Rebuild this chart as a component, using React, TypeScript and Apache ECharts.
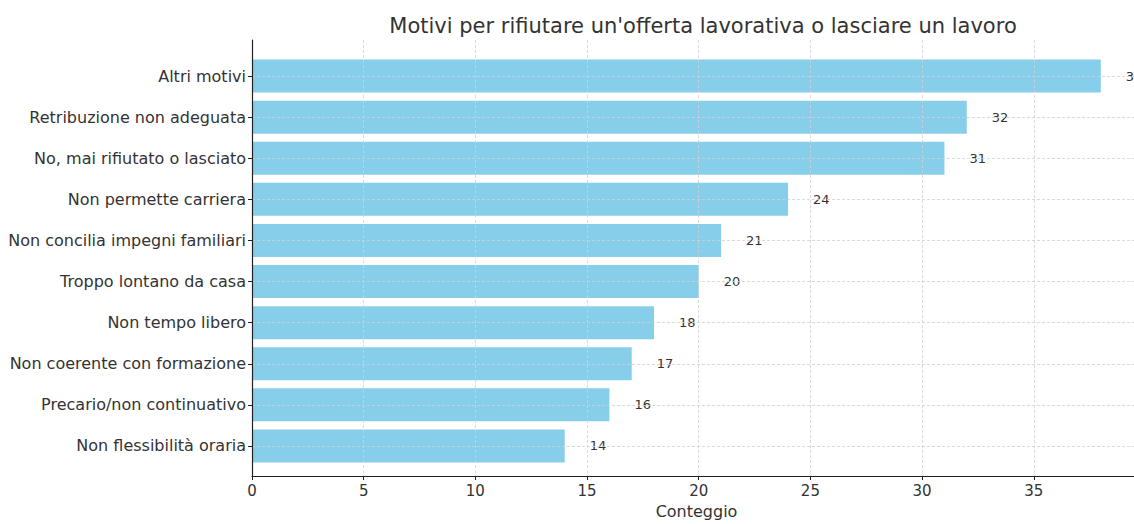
import React, { useEffect, useRef } from "react";
import * as echarts from "echarts";

const categories = [
  "Altri motivi",
  "Retribuzione non adeguata",
  "No, mai rifiutato o lasciato",
  "Non permette carriera",
  "Non concilia impegni familiari",
  "Troppo lontano da casa",
  "Non tempo libero",
  "Non coerente con formazione",
  "Precario/non continuativo",
  "Non flessibilità oraria",
];
const counts = [38, 32, 31, 24, 21, 20, 18, 17, 16, 14];
const xTicks = [0, 5, 10, 15, 20, 25, 30, 35];

const TITLE = "Motivi per rifiutare un'offerta lavorativa o lasciare un lavoro";
const X_NAME = "Conteggio";
const FONT = "DejaVu Sans";

export default function App() {
  const ref = useRef<HTMLDivElement>(null);
  useEffect(() => {
    if (!ref.current) return;
    const chart = echarts.init(ref.current, undefined, { renderer: "svg" });
    const gridDash = { color: "#d0d0d0", width: 0.8, type: [3, 2] as any };
    chart.setOption({
      animation: false,
      textStyle: { fontFamily: FONT },
      title: {
        text: TITLE,
        left: 698,
        top: 10,
        textAlign: "center",
        textStyle: { fontFamily: FONT, fontSize: 21, fontWeight: "normal", color: "#333" },
      },
      grid: [
        { left: 252, top: 40, width: 889, height: 442 },
        { left: 252, top: 55.5, width: 889, height: 411 },
      ],
      xAxis: [
        {
          gridIndex: 0,
          type: "value",
          min: 0,
          max: 39.8,
          interval: 5,
          z: 10,
          axisLine: { show: true, lineStyle: { color: "#222", width: 1.2 } },
          axisTick: { show: true, length: 4, lineStyle: { color: "#222" }, customValues: xTicks },
          axisLabel: {
            fontFamily: FONT,
            fontSize: 15,
            color: "#333",
            margin: 7,
            customValues: xTicks,
          },
          splitLine: { show: true, lineStyle: gridDash },
          name: X_NAME,
          nameLocation: "middle",
          nameGap: 27,
          nameTextStyle: { fontFamily: FONT, fontSize: 16, color: "#333" },
        },
        {
          gridIndex: 1,
          type: "value",
          min: 0,
          max: 39.8,
          show: false,
        },
      ],
      yAxis: [
        {
          gridIndex: 0,
          type: "value",
          min: 0,
          max: 1,
          z: 12,
          axisLine: { show: true, onZero: false, lineStyle: { color: "#222", width: 1.2 } },
          axisTick: { show: false },
          axisLabel: { show: false },
          splitLine: { show: false },
        },
        {
          gridIndex: 1,
          type: "category",
          inverse: true,
          data: categories,
          axisLine: { show: false },
          axisTick: { show: true, length: 4, alignWithLabel: true, lineStyle: { color: "#222" } },
          axisLabel: { fontFamily: FONT, fontSize: 16, color: "#333", margin: 6 },
          splitLine: { show: false },
        },
      ],
      series: [
        {
          type: "bar",
          xAxisIndex: 1,
          yAxisIndex: 1,
          data: counts,
          barWidth: 33,
          itemStyle: { color: "#87CEEB" },
          label: {
            show: true,
            position: "right",
            distance: 25,
            fontFamily: FONT,
            fontSize: 13,
            color: "#333",
          },
          markLine: {
            silent: true,
            symbol: ["none", "none"],
            label: { show: false },
            lineStyle: { color: "#d0d0d0", width: 0.8, type: [3, 2] },
            data: categories.map((c) => ({ yAxis: c })),
          },
        },
      ],
    });
    return () => chart.dispose();
  }, []);
  return (
    <div
      style={{ position: "absolute", left: 0, top: 0, width: 1134, height: 524, overflow: "hidden", background: "#fff" }}
    >
      <div ref={ref} style={{ width: 1160, height: 524 }} />
    </div>
  );
}
